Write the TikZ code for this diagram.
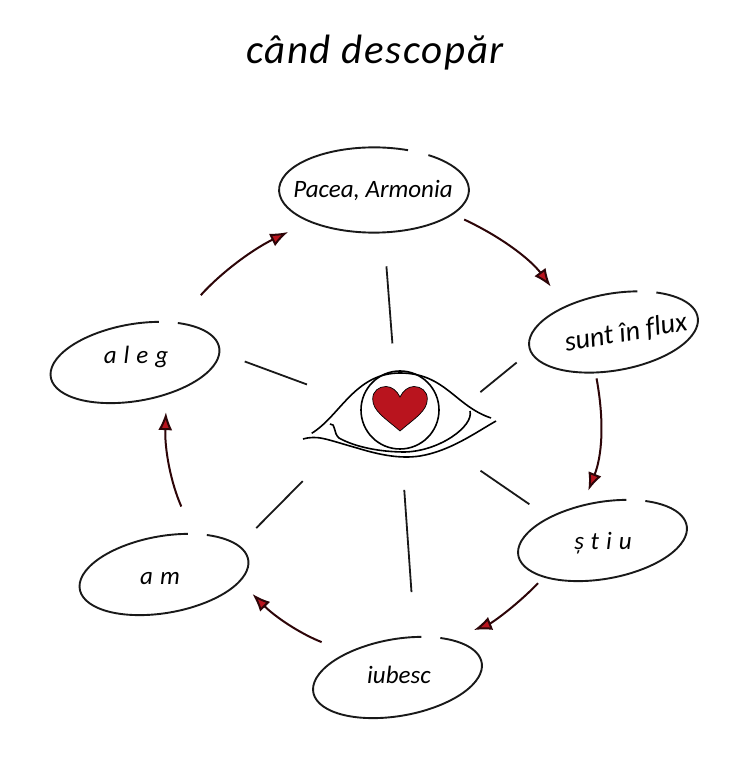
\documentclass[tikz,border=0pt]{standalone}
\usepackage{fontspec}
\setmainfont{Carlito}[Ligatures=NoCommon]
\usetikzlibrary{positioning, shapes.geometric, arrows.meta}
\definecolor{heartred}{RGB}{185,20,30}
\definecolor{flowdark}{RGB}{45,5,8}

\begin{document}
\begin{tikzpicture}[x=1pt, y=1pt]
    \tikzset{
        oval/.pic={
                \draw[line width=1.9pt, black!90] (69:85.5 and 38.4) arc[start angle=69, end angle=415, x radius=85.5, y radius=38.4];
            },
        oval node/.style={
                ellipse, minimum width=171pt, minimum height=76.8pt, inner sep=0pt, outer sep=0pt
            },
        word/.style={
                font=\itshape\fontsize{25}{28}\selectfont, text=black, inner sep=0pt
            },
        spaced/.style={
                word, font=\itshape\fontsize{25}{28}\selectfont\addfontfeatures{LetterSpace=28}
            },
        spoke/.style={
                line width=1.8pt, black!90
            },
        flow/.style={
                line width=2pt, flowdark, -{Latex[length=18pt, width=14pt, fill=heartred]}
            },
        lid/.style={
                line width=1.6pt, black
            }
    }
    \useasboundingbox (0,0) rectangle (750,761);

    \node[word, font=\itshape\fontsize{41}{46}\selectfont\addfontfeatures{LetterSpace=4}] (title) at (375,708) {când descopăr};

    % ovals
    \node[oval node, scale=1.11] (peace) at (374,571) {};
    \node[oval node, rotate=10] (flux) at (613.5,429) {};
    \node[oval node, rotate=10] (stiu) at (602.5,220.5) {};
    \node[oval node, rotate=10] (iubesc) at (397.5,83.5) {};
    \node[oval node, rotate=10] (am) at (164,186.5) {};
    \node[oval node, rotate=10] (aleg) at (135,398.5) {};
    \pic[scale=1.11] at (peace) {oval};
    \pic[rotate=10] at (flux) {oval};
    \pic[rotate=10] at (stiu) {oval};
    \pic[rotate=10] at (iubesc) {oval};
    \pic[rotate=10] at (am) {oval};
    \pic[rotate=10] at (aleg) {oval};

    \node[word] (peacetext) at (373,570) {Pacea, Armonia};
    \node[word, font=\itshape\fontsize{28}{30}\selectfont, rotate=10] (fluxtext) at (626,428) {sunt în flux};
    \node[spaced] (stiutext) at (603,218) {știu};
    \node[word] (iubesctext) at (399,86) {iubesc};
    \node[spaced] (amtext) at (160,182) {am};
    \node[spaced] (alegtext) at (136,404) {aleg};

    % eye
    \node[circle, draw=black, line width=1.6pt, minimum size=78pt, inner sep=0pt, outer sep=0pt] (iris) at (400,351) {};
    \draw[lid] (311.7,327.7) .. controls (340,345) and (355,388) .. (400,388) .. controls (445,388) and (455,355) .. (491,343);
    \draw[lid] (303,322) .. controls (318,326) and (325,322) .. (357,313) .. controls (380,306) and (400,302) .. (420,305) .. controls (450,310) and (475,328) .. (496,340);
    \draw[lid] (330,337) .. controls (336,338) and (333,328) .. (339,323) .. controls (355,314) and (380,309) .. (405,309) .. controls (440,310) and (474,335) .. (470,350);
    \draw[fill=heartred, draw=black, line width=.7pt] (400,330) .. controls (385,343) and (372.7,350) .. (372.7,362)
        .. controls (372.7,370) and (379,374.5) .. (386,374.5) .. controls (392,374.5) and (397,370) .. (400,364)
        .. controls (403,370) and (408,374.5) .. (414,374.5) .. controls (421,374.5) and (427.3,370) .. (427.3,362)
        .. controls (427.3,350) and (415,343) .. (400,330) -- cycle;

    % spokes
    \draw[spoke, shorten <=34pt, shorten >=28pt] (peace.-77.7) -- (iris.98.9);
    \draw[spoke, shorten <=18pt, shorten >=61pt] (flux.183.4) -- (iris.-32.6);
    \draw[spoke, shorten <=24pt, shorten >=62pt] (stiu.147) -- (iris.-41);
    \draw[spoke, shorten <=45pt, shorten >=41pt] (iubesc.57.9) -- (iris.-88.2);
    \draw[spoke, shorten <=25pt, shorten >=85pt] (am.11.6) -- (iris.-164);
    \draw[spoke, shorten <=27pt, shorten >=58pt] (aleg.-3.9) -- (iris.172.4);

    % cycle
    \draw[flow, shorten <=13pt, shorten >=25pt] (peace.-17.9) to[bend left=14] (flux.142);
    \draw[flow, shorten <=6pt, shorten >=16pt] (flux.-124.6) to[bend left=16] (stiu.110);
    \draw[flow, shorten <=9pt, shorten >=26pt] (stiu.202.8) to[bend left=12] (iubesc.26.3);
    \draw[flow, shorten <=29pt, shorten >=18pt] (iubesc.143) to[bend left=12] (am.-15);
    \draw[flow, shorten <=30pt, shorten >=18pt] (am.44) to[bend left=13] (aleg.-55);
    \draw[flow, shorten <=37pt, shorten >=24pt] (aleg.34.4) to[bend left=11] (peace.206);
\end{tikzpicture}
\end{document}
